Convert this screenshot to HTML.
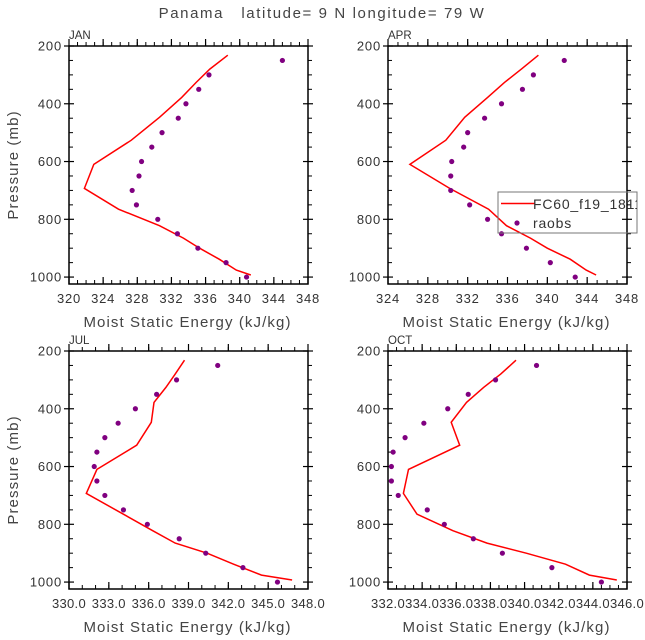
<!DOCTYPE html>
<html><head><meta charset="utf-8"><style>
html,body{margin:0;padding:0;background:#fff;}
svg{display:block;font-family:"Liberation Sans","DejaVu Sans",sans-serif;}
</style></head><body>
<svg id="chart" width="645" height="640" viewBox="0 0 645 640" xmlns="http://www.w3.org/2000/svg">
<text x="322" y="18" text-anchor="middle" font-size="15" fill="#444" letter-spacing="1.6" style="white-space:pre">Panama   latitude= 9 N longitude= 79 W</text>
</svg>
<script>
const obsLevels = [250,300,350,400,450,500,550,600,650,700,750,800,850,900,950,1000];
const modelLevels = [232,280,326,378,447,526,610,693,765,822,865,900,938,976,993];
const janModel = [338.6,336.5,334.9,333.2,330.6,327.3,322.9,321.8,325.8,330.6,333.4,335.3,337.6,339.6,341.3];
const janObs = [345.0,336.4,335.2,333.7,332.8,330.9,329.7,328.5,328.2,327.4,327.9,330.4,332.7,335.1,338.4,340.8];
const aprModel = [339.1,337.4,335.7,334.0,331.7,329.8,326.2,330.2,334.1,335.9,338.3,340.0,342.3,343.9,344.9];
const aprObs = [341.7,338.6,337.5,335.4,333.7,332.0,331.6,330.4,330.3,330.3,332.2,334.0,335.4,337.9,340.3,342.8];
const julModel = [338.7,338.0,337.3,336.4,336.2,335.1,332.1,331.3,334.1,336.3,338.0,340.4,342.4,344.5,346.8];
const julObs = [341.2,338.1,336.6,335.0,333.7,332.7,332.1,331.9,332.1,332.7,334.1,335.9,338.3,340.3,343.1,345.7];
const octModel = [339.5,338.6,337.6,336.6,335.7,336.2,333.2,332.9,333.7,335.8,337.8,340.1,342.4,343.8,345.4];
const octObs = [340.7,338.3,336.7,335.5,334.1,333.0,332.3,332.2,332.2,332.6,334.3,335.3,337.0,338.7,341.6,344.5];
const yTicks = [200,400,600,800,1000];
const janXTicks = [320,324,328,332,336,340,344,348];
const aprXTicks = [324,328,332,336,340,344,348];
const julXTicks = [330,333,336,339,342,345,348];
const octXTicks = [332,334,336,338,340,342,344,346];

const NS = "http://www.w3.org/2000/svg";
const svg = document.getElementById('chart');
function mk(tag, attrs, parent){
  const e = document.createElementNS(NS, tag);
  for (const k in attrs) e.setAttribute(k, attrs[k]);
  (parent||svg).appendChild(e); return e;
}
const panels = [
  {name:'jan', label:'JAN', x0:69, y0:46, xmin:320, xmax:348, ticks:janXTicks, minor:1, dec:0, model:janModel, obs:janObs, yAxis:true},
  {name:'apr', label:'APR', x0:388, y0:46, xmin:324, xmax:348, ticks:aprXTicks, minor:1, dec:0, model:aprModel, obs:aprObs, yAxis:false},
  {name:'jul', label:'JUL', x0:69, y0:351, xmin:330, xmax:348, ticks:julXTicks, minor:1, dec:1, model:julModel, obs:julObs, yAxis:true},
  {name:'oct', label:'OCT', x0:388, y0:351, xmin:332, xmax:346, ticks:octXTicks, minor:0.5, dec:1, model:octModel, obs:octObs, yAxis:false}
];
const W = 239, H = 238, PMIN = 200, PMAX = 1024;
panels.forEach(p => {
  const g = mk('g', {});
  
  
  const sx = v => p.x0 + (v - p.xmin) / (p.xmax - p.xmin) * W;
  const sy = v => p.y0 + (v - PMIN) / (PMAX - PMIN) * H;
  for (let v = 250; v <= 1000; v += 50) {
    if (v % 200 === 0) continue;
    mk('line', {x1:p.x0, x2:p.x0+4, y1:sy(v), y2:sy(v), stroke:'#000', 'stroke-width':1}, g);
    mk('line', {x1:p.x0+W, x2:p.x0+W+4, y1:sy(v), y2:sy(v), stroke:'#000', 'stroke-width':1}, g);
  }
  yTicks.forEach(v => {
    mk('line', {x1:p.x0-5, x2:p.x0+5, y1:sy(v), y2:sy(v), stroke:'#000', 'stroke-width':1.2}, g);
    mk('line', {x1:p.x0+W-5, x2:p.x0+W+5, y1:sy(v), y2:sy(v), stroke:'#000', 'stroke-width':1.2}, g);
    const t = mk('text', {x:p.x0-7, y:sy(v)+4.5, 'text-anchor':'end', 'font-size':13, fill:'#333', 'letter-spacing':0.8}, g);
    
    
    t.textContent = v;
  });
  for (let v = p.xmin; v <= p.xmax + 1e-6; v += p.minor) {
    mk('line', {x1:sx(v), x2:sx(v), y1:p.y0+H, y2:p.y0+H-4, stroke:'#000', 'stroke-width':1}, g);
    mk('line', {x1:sx(v), x2:sx(v), y1:p.y0, y2:p.y0-4, stroke:'#000', 'stroke-width':1}, g);
  }
  p.ticks.forEach(v => {
    mk('line', {x1:sx(v), x2:sx(v), y1:p.y0+H, y2:p.y0+H-7, stroke:'#000', 'stroke-width':1.2}, g);
    mk('line', {x1:sx(v), x2:sx(v), y1:p.y0, y2:p.y0-7, stroke:'#000', 'stroke-width':1.2}, g);
    const t = mk('text', {x:sx(v), y:p.y0+H+19, 'text-anchor':'middle', 'font-size':13, fill:'#333', 'letter-spacing':p.dec ? 0.3 : 0.8}, g);
    
    
    t.textContent = v.toFixed(p.dec);
  });
  const fr = mk('rect', {x:p.x0, y:p.y0, width:W, height:H, fill:'none', stroke:'#000', 'stroke-width':1.5}, g);
  
  
  const lab = mk('text', {x:p.x0, y:p.y0-7, 'font-size':11.5, fill:'#333'}, g);
  
  
  lab.textContent = p.label;
  const xt = mk('text', {x:p.x0+W/2-1, y:p.y0+H+43, 'text-anchor':'middle', 'font-size':15, fill:'#444', 'letter-spacing':1.1}, g);
  
  
  xt.textContent = 'Moist Static Energy (kJ/kg)';
  if (p.yAxis) {
    const cy = p.y0 + H/2;
    const yt = mk('text', {x:0, y:0, transform:`translate(18,${cy}) rotate(-90)`, 'text-anchor':'middle', 'font-size':15, fill:'#444', 'letter-spacing':1.1}, g);
    
    
    yt.textContent = 'Pressure (mb)';
  }
  const pts = p.model.map((v,i) => sx(v).toFixed(1) + ',' + sy(modelLevels[i]).toFixed(1)).join(' ');
  const line = mk('polyline', {points:pts, fill:'none', stroke:'#f00', 'stroke-width':1.5}, g);
  
  
  p.obs.forEach((v,i) => {
    const c = mk('circle', {cx:sx(v), cy:sy(obsLevels[i]), r:2.6, fill:'#800080'}, g);
    
    
  });
});
const lg = mk('g', {});


mk('rect', {x:498, y:192, width:139, height:41, fill:'none', stroke:'#777', 'stroke-width':1}, lg);
const clip = mk('clipPath', {id:'lgclip'}, lg);
mk('rect', {x:498, y:190, width:139, height:45}, clip);
mk('line', {x1:501, x2:535, y1:203.5, y2:203.5, stroke:'#f00', 'stroke-width':1.5}, lg);
const l1 = mk('text', {x:533, y:209, 'font-size':14, fill:'#333', 'letter-spacing':0.8, 'clip-path':'url(#lgclip)'}, lg);


l1.textContent = 'FC60_f19_1811';
mk('circle', {cx:517, cy:223, r:2.6, fill:'#800080'}, lg);
const l2 = mk('text', {x:533, y:228, 'font-size':14, fill:'#333', 'letter-spacing':0.8}, lg);


l2.textContent = 'raobs';
</script>
</body></html>
